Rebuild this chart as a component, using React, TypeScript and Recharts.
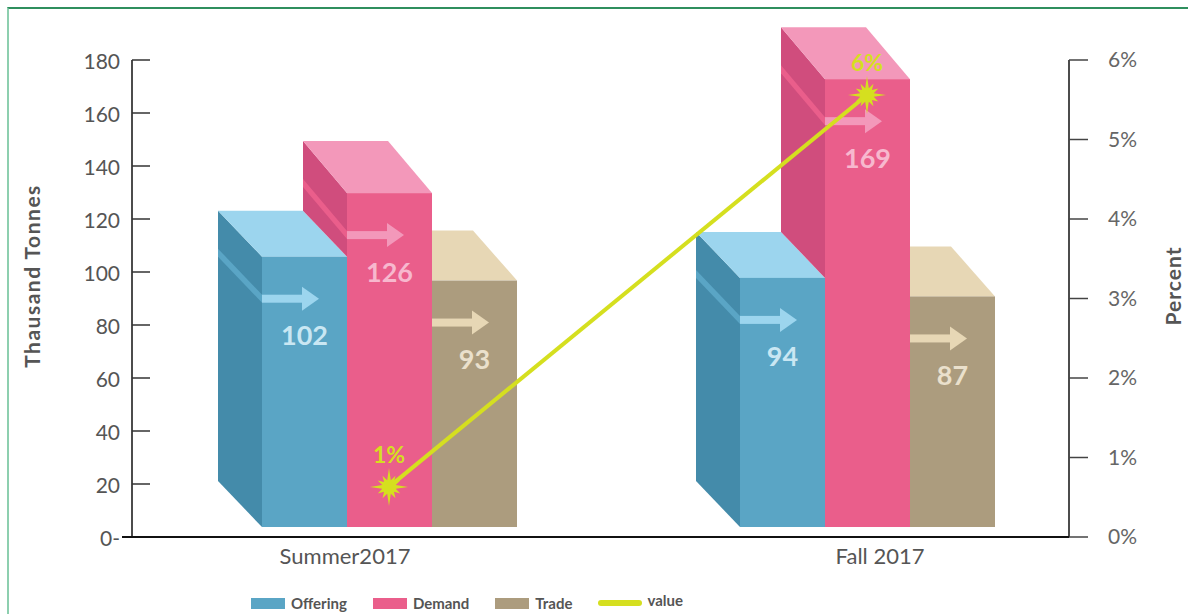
import {
  ComposedChart,
  Bar,
  Line,
  XAxis,
  YAxis,
  Legend,
  LabelList,
  Label,
} from 'recharts';

const CATEGORIES = ['Summer2017', 'Fall 2017'];
const OFFERING = [102, 94];
const DEMAND = [126, 169];
const TRADE = [93, 87];
const VALUE = [0.63, 5.56];
const LEFT_TICKS = [0, 20, 40, 60, 80, 100, 120, 140, 160, 180];
const RIGHT_TICKS = [0, 1, 2, 3, 4, 5, 6];
const SERIES_ORDER = ['Offering', 'Demand', 'Trade', 'value'];

const data = CATEGORIES.map((name, i) => ({
  name,
  offering: OFFERING[i],
  demand: DEMAND[i],
  trade: TRADE[i],
  value: VALUE[i],
}));

const FONT = 'Lato, "Open Sans", sans-serif';
const LINE_COLOR = '#D5DF1F';
const DX = 44; // depth of the fake 3d block
const DEPTH: Record<string, number> = { offering: 46, demand: 52, trade: 50 };
const LIFT = 10; // blocks float a bit above the axis
const XTICK_SHIFT = [-44, 13];

const COLORS: Record<string, any> = {
  offering: { front: '#5AA5C5', side: '#448BAA', top: '#9CD5EE', stripe: '#5AA5C5', text: '#C9E7F3' },
  demand: { front: '#EA5E8B', side: '#D04D7D', top: '#F398BA', stripe: '#EA5E8B', text: '#F7B8CE' },
  trade: { front: '#AC9C7E', side: '#9A8B6E', top: '#E7D7B5', stripe: '#AC9C7E', text: '#EAE0CC' },
};

const pts = (arr: number[][]) => arr.map((p) => p.join(',')).join(' ');

const makeBlock = (key: string) => (props: any) => {
  const { x, y, width: w, height: h, payload } = props;
  if (!h) return <g />;
  const c = COLORS[key];
  const dy = DEPTH[key];
  const top = y - LIFT;
  const bottom = y + h - LIFT;
  const aY = top + 42;

  let side = null;
  let stripe = null;
  if (key === 'offering') {
    side = <polygon points={pts([[x - DX, top - dy], [x, top], [x, bottom], [x - DX, bottom - dy]])} fill={c.side} />;
    stripe = <polygon points={pts([[x - DX, aY - dy - 4], [x, aY - 4], [x, aY + 4], [x - DX, aY - dy + 4]])} fill={c.stripe} />;
  } else if (key === 'demand') {
    // only the part of the side that shows above the offering block
    const oTop = bottom - (payload.offering * h) / payload.demand;
    const oDy = DEPTH.offering;
    if (oTop > top) {
      side = <polygon points={pts([[x - DX, top - dy], [x, top], [x, oTop], [x - DX, oTop - oDy]])} fill={c.side} />;
      if (aY + 4 < oTop) {
        stripe = <polygon points={pts([[x - DX, aY - dy - 4], [x, aY - 4], [x, aY + 4], [x - DX, aY - dy + 4]])} fill={c.stripe} />;
      }
    }
  }

  const topFace =
    key === 'trade'
      ? pts([[x, top - dy], [x + w - DX, top - dy], [x + w, top], [x, top]])
      : pts([[x - DX, top - dy], [x + w - DX, top - dy], [x + w, top], [x, top]]);

  return (
    <g>
      {side}
      {stripe}
      <polygon points={topFace} fill={c.top} />
      <rect x={x} y={top} width={w} height={bottom - top} fill={c.front} />
      <rect x={x} y={aY - 4} width={41} height={8} fill={c.top} />
      <polygon points={pts([[x + 40, aY - 12], [x + 57, aY], [x + 40, aY + 12]])} fill={c.top} />
    </g>
  );
};

const blockLabel = (key: string) => (props: any) => {
  const { x, y, width, value } = props;
  return (
    <text
      x={x + width / 2}
      y={y - LIFT + 78}
      textAnchor="middle"
      dominantBaseline="central"
      fill={COLORS[key].text}
      fontFamily={FONT}
      fontWeight={700}
      fontSize={27}
    >
      {value}
    </text>
  );
};

const starDot = (props: any) => {
  const { cx, cy, index } = props;
  const n = 12;
  const p: number[][] = [];
  for (let i = 0; i < n * 2; i++) {
    const a = (Math.PI * i) / n - Math.PI / 2;
    const r = i % 2 === 1 ? 7 : i % 6 === 0 ? 19 : 13;
    p.push([cx + r * Math.cos(a), cy + r * Math.sin(a)]);
  }
  return <polygon key={`star-${index}`} points={pts(p)} fill={LINE_COLOR} />;
};

const LeftTick = (props: any) => {
  const { x, y, payload } = props;
  const v = payload.value;
  return (
    <g>
      {v !== 0 ? (
        <line x1={x + 10} x2={x + 28} y1={y} y2={y} stroke="#333" strokeWidth={1.5} />
      ) : (
        <line x1={x} x2={x + 10} y1={y} y2={y} stroke="#111" strokeWidth={2} />
      )}
      <text x={x - 2} y={y} textAnchor="end" dominantBaseline="central" fill="#555" fontFamily={FONT} fontSize={21}>
        {v === 0 ? '0-' : v}
      </text>
    </g>
  );
};

const XTick = (props: any) => {
  const { x, y, payload, index } = props;
  return (
    <text
      x={x + (XTICK_SHIFT[index] || 0)}
      y={y + 18}
      textAnchor="middle"
      dominantBaseline="central"
      fill="#555"
      fontFamily={FONT}
      fontSize={22}
    >
      {payload.value}
    </text>
  );
};

const LegendContent = (props: any) => {
  const items = [...(props.payload || [])].sort(
    (a: any, b: any) => SERIES_ORDER.indexOf(a.value) - SERIES_ORDER.indexOf(b.value),
  );
  return (
    <div style={{ display: 'flex', alignItems: 'center', fontFamily: FONT, fontWeight: 700, fontSize: 15, color: '#555' }}>
      {items.map((e: any) => (
        <div key={e.value} style={{ display: 'flex', alignItems: 'center', marginRight: e.type === 'line' ? 0 : 26 }}>
          {e.type === 'line' ? (
            <div style={{ width: 44, height: 6, borderRadius: 3, background: e.color, marginRight: 5 }} />
          ) : (
            <div style={{ width: 34, height: 11, background: e.color, marginRight: 6 }} />
          )}
          <span style={{ position: 'relative', top: e.type === 'line' ? -3 : 0 }}>{e.value}</span>
        </div>
      ))}
    </div>
  );
};

export default function App() {
  return (
    <div style={{ position: 'relative', width: 1188, height: 614, overflow: 'hidden' }}>
      <style>{'body{margin:0}'}</style>
      <div
        style={{
          position: 'absolute',
          left: 7,
          top: 7,
          right: -4,
          bottom: -4,
          borderTop: '2px solid #2F8F5E',
          borderLeft: '2px solid #8DCFAF',
        }}
      />
      <ComposedChart
        width={1188}
        height={614}
        data={data}
        margin={{ top: 60, right: 0, bottom: 0, left: 0 }}
        barGap={0}
        style={{ position: 'absolute', left: 0, top: 0 }}
      >
        <XAxis
          dataKey="name"
          height={77}
          padding={{ left: 18, right: -37 }}
          axisLine={{ stroke: '#111', strokeWidth: 2 }}
          tickLine={false}
          tickSize={0}
          tickMargin={0}
          tick={<XTick />}
        />
        <YAxis
          yAxisId="left"
          width={132}
          domain={[0, 180]}
          ticks={LEFT_TICKS}
          interval={0}
          axisLine={{ stroke: '#111', strokeWidth: 1.5 }}
          tickLine={false}
          tickSize={10}
          tickMargin={0}
          tick={<LeftTick />}
        >
          <Label
            content={() => (
              <text
                transform="translate(31,276) rotate(-90)"
                textAnchor="middle"
                dominantBaseline="central"
                fill="#555"
                fontFamily={FONT}
                fontWeight={700}
                fontSize={21}
                letterSpacing={1.5}
              >
                Thausand Tonnes
              </text>
            )}
          />
        </YAxis>
        <YAxis
          yAxisId="right"
          orientation="right"
          width={119}
          domain={[0, 6]}
          ticks={RIGHT_TICKS}
          interval={0}
          tickFormatter={(v: number) => `${v}%`}
          axisLine={{ stroke: '#111', strokeWidth: 1.5 }}
          tickLine={{ stroke: '#444', strokeWidth: 1.5 }}
          tickSize={19}
          tickMargin={20}
          tick={{ fill: '#666', fontSize: 21, fontFamily: FONT }}
        >
          <Label
            content={() => (
              <text
                transform="translate(1172,286) rotate(-90)"
                textAnchor="middle"
                dominantBaseline="central"
                fill="#555"
                fontFamily={FONT}
                fontWeight={700}
                fontSize={21}
                letterSpacing={1}
              >
                Percent
              </text>
            )}
          />
        </YAxis>
        <Legend
          layout="horizontal"
          verticalAlign="middle"
          align="center"
          wrapperStyle={{ left: 251, top: 594, width: 'auto' }}
          content={<LegendContent />}
        />
        <Bar yAxisId="left" dataKey="offering" name="Offering" fill={COLORS.offering.front} barSize={85} shape={makeBlock('offering')} isAnimationActive={false}>
          <LabelList dataKey="offering" content={blockLabel('offering')} />
        </Bar>
        <Bar yAxisId="left" dataKey="demand" name="Demand" fill={COLORS.demand.front} barSize={85} shape={makeBlock('demand')} isAnimationActive={false}>
          <LabelList dataKey="demand" content={blockLabel('demand')} />
        </Bar>
        <Bar yAxisId="left" dataKey="trade" name="Trade" fill={COLORS.trade.front} barSize={85} shape={makeBlock('trade')} isAnimationActive={false}>
          <LabelList dataKey="trade" content={blockLabel('trade')} />
        </Bar>
        <Line
          yAxisId="right"
          dataKey="value"
          name="value"
          stroke={LINE_COLOR}
          strokeWidth={4}
          dot={starDot}
          activeDot={false}
          legendType="line"
          isAnimationActive={false}
        >
          <LabelList
            dataKey="value"
            position="top"
            offset={24}
            formatter={(v: any) => `${Math.round(Number(v))}%`}
            fill={LINE_COLOR}
            fontFamily={FONT}
            fontWeight={700}
            fontSize={23}
          />
        </Line>
      </ComposedChart>
    </div>
  );
}
